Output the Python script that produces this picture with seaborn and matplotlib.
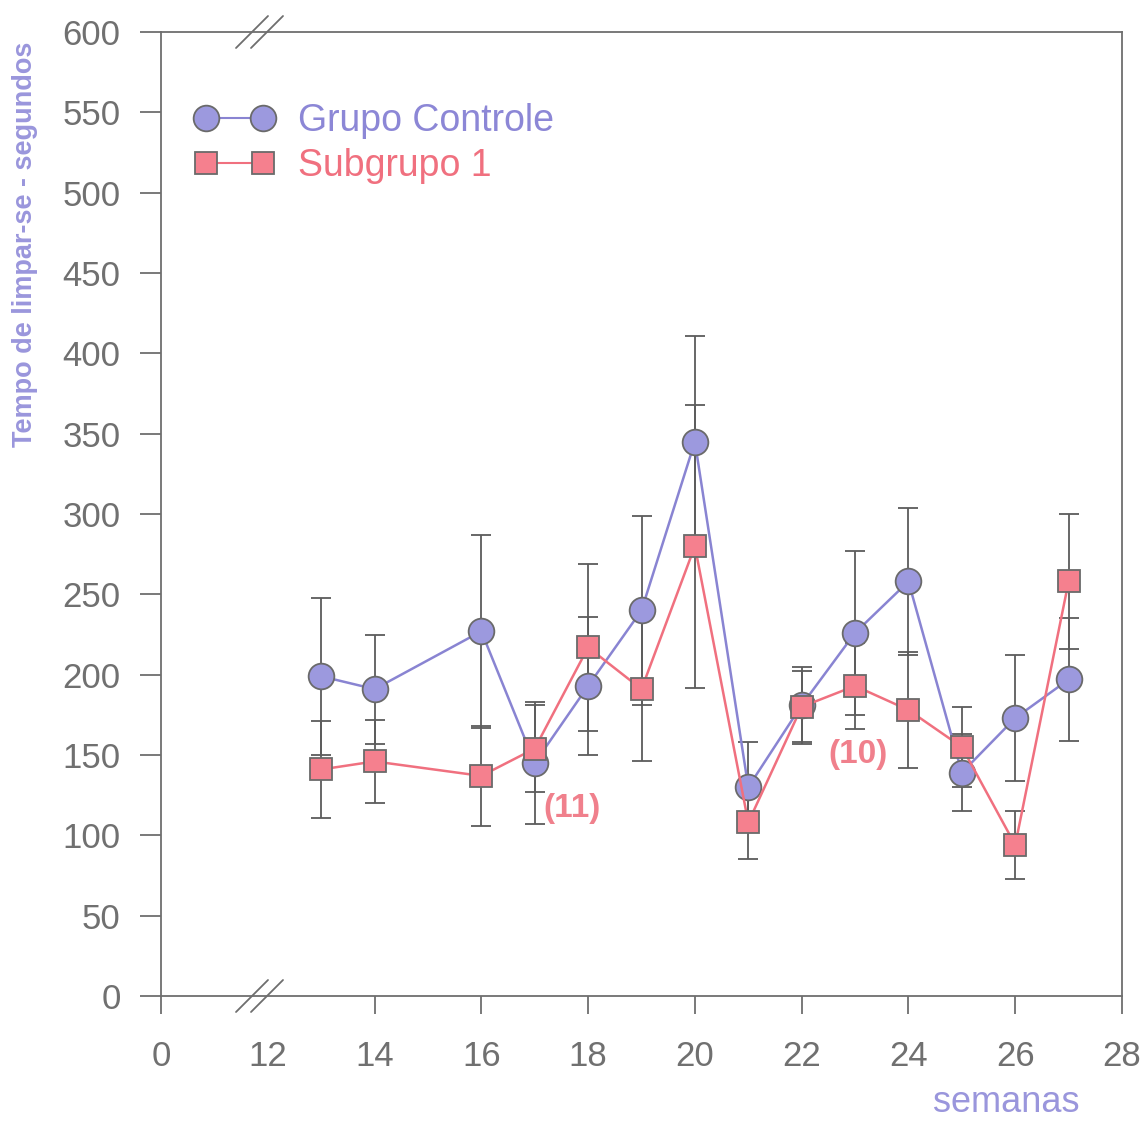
import numpy as np
import pandas as pd
import matplotlib
matplotlib.use("Agg")
import matplotlib.pyplot as plt
import seaborn as sns
from matplotlib.lines import Line2D

# ---------------- data ----------------
weeks = [13, 14, 16, 17, 18, 19, 20, 21, 22, 23, 24, 25, 26, 27]
controle = [199, 191, 227, 145, 193, 240, 345, 130, 181, 226, 258, 139, 173, 197]
controle_err = [49, 34, 60, 38, 43, 59, 66, 28, 24, 51, 46, 24, 39, 38]
subgrupo1 = [141, 146, 137, 154, 217, 191, 280, 108, 180, 193, 178, 155, 94, 258]
subgrupo1_err = [30, 26, 31, 27, 52, 45, 88, 23, 22, 27, 36, 25, 21, 42]
xtick_labels = ["0", "12", "14", "16", "18", "20", "22", "24", "26", "28"]
xtick_weeks = [0, 12, 14, 16, 18, 20, 22, 24, 26, 28]
ytick_values = list(range(0, 601, 50))
series_names = ["Grupo Controle", "Subgrupo 1"]
annotations = [("(11)", 17.7, 117), ("(10)", 23.05, 150)]

# broken axis: 0 .. | 12 .. 28  -> weeks >= 12 shifted by 10
def to_pos(w):
    w = np.asarray(w, dtype=float)
    return np.where(w >= 12, w - 10, w)

sns.set_style("white")
plt.rcParams["font.family"] = ["Liberation Sans", "DejaVu Sans"]

C_LINE = "#8984d2"
C_FACE = "#9c99de"
S_LINE = "#f0707f"
S_FACE = "#f5808e"
EDGE = "#6a6a6a"
AXC = "#6e6e6e"
TICKC = "#707070"

df_c = pd.DataFrame({"pos": to_pos(weeks), "valor": controle, "err": controle_err})
df_s = pd.DataFrame({"pos": to_pos(weeks), "valor": subgrupo1, "err": subgrupo1_err})

fig = plt.figure(figsize=(11.48, 11.23), dpi=100)
ax = fig.add_axes([161 / 1148, 1 - 996 / 1123, (1122 - 161) / 1148, (996 - 32) / 1123])

# error bars
for d in (df_c, df_s):
    ax.errorbar(d["pos"], d["valor"], yerr=d["err"], fmt="none", ecolor="#5c5c5c",
                elinewidth=1.3, capsize=7.5, capthick=1.3, zorder=2)

sns.lineplot(data=df_c, x="pos", y="valor", ax=ax, color=C_LINE, linewidth=1.8,
             marker="o", markersize=18.5, markerfacecolor=C_FACE, markeredgecolor=EDGE,
             markeredgewidth=1.3, legend=False, sort=False, zorder=3)
sns.lineplot(data=df_s, x="pos", y="valor", ax=ax, color=S_LINE, linewidth=1.8,
             marker="s", markersize=16, markerfacecolor=S_FACE, markeredgecolor=EDGE,
             markeredgewidth=1.3, legend=False, sort=False, zorder=4)

ax.set_xlim(0, 18)
ax.set_ylim(0, 600)
ax.set_xticks(to_pos(xtick_weeks))
ax.set_xticklabels(xtick_labels)
ax.set_yticks(ytick_values)
ax.set_xlabel("")
ax.set_ylabel("")

for sp in ax.spines.values():
    sp.set_visible(True)
    sp.set_color(AXC)
    sp.set_linewidth(1.3)

ax.tick_params(axis="both", direction="out", colors=AXC, width=1.3, labelsize=25,
               labelcolor=TICKC)
ax.tick_params(axis="x", length=13, pad=19)
ax.tick_params(axis="y", length=15, pad=14)
ax.tick_params(left=True, bottom=True, top=False, right=False)
ax.xaxis.get_major_ticks()[1].tick1line.set_visible(False)

# break marks on top and bottom axes
for yb in (0, 1):
    for dx in (0, 15):
        x0 = (236 + dx - 161) / 961
        x1 = (268 + dx - 161) / 961
        ax.plot([x0, x1], [yb - 16 / 964, yb + 16 / 964], transform=ax.transAxes,
                color=AXC, linewidth=1.3, clip_on=False, zorder=6)

# legend
h1 = Line2D([], [], color=C_LINE, linewidth=1.5, marker="o", markersize=18.5,
            markerfacecolor=C_FACE, markeredgecolor=EDGE, markeredgewidth=1.3)
h2 = Line2D([], [], color=S_LINE, linewidth=1.5, marker="s", markersize=16,
            markerfacecolor=S_FACE, markeredgecolor=EDGE, markeredgewidth=1.3)
leg = ax.legend([h1, h2], series_names, loc="upper left",
                bbox_to_anchor=((195 - 161) / 961, (996 - 103) / 964),
                numpoints=2, handlelength=2.1, handletextpad=0.65, labelspacing=0.25,
                frameon=False, fontsize=27, borderpad=0, borderaxespad=0)
for t, c in zip(leg.get_texts(), ["#8c87d6", "#f0707f"]):
    t.set_color(c)

for txt, w, v in annotations:
    ax.text(float(to_pos(w)), v, txt, color="#f0808c", fontsize=24, fontweight="bold",
            ha="center", va="center", zorder=7)

fig.text(25 / 1148, 1 - 244 / 1123, "Tempo de limpar-se - segundos", rotation=90,
         color="#9a96dc", fontsize=19.5, fontweight="bold", ha="center", va="center")
fig.text(1006 / 1148, 1 - 1103 / 1123, "semanas", color="#9a96dc", fontsize=26,
         ha="center", va="center")

fig.savefig("out.png", dpi=100)
